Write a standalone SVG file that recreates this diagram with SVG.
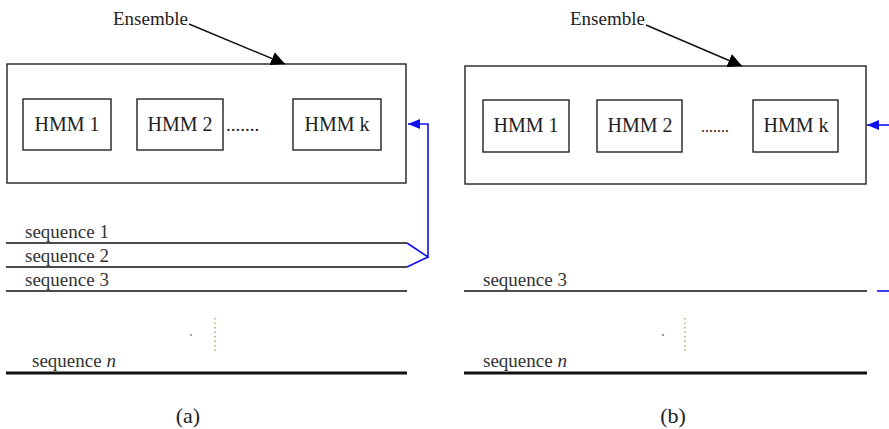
<svg xmlns="http://www.w3.org/2000/svg" width="889" height="429" viewBox="0 0 889 429">
<style>
  .box{fill:#fff;stroke:#222;stroke-width:1.4}
  .t{font-family:"Liberation Serif","Times New Roman",serif;fill:#222}
  .hmm{font-size:20px;text-anchor:middle}
  .seq{font-size:19px;fill:#333}
  .line{stroke:#111;stroke-width:1.4;fill:none}
  .thick{stroke:#111;stroke-width:3;fill:none}
  .blue{stroke:#1010ee;stroke-width:1.6;fill:none}
  .dots{stroke:#c8a060;stroke-width:1.5;stroke-dasharray:1.5 3;fill:none}
</style>
<defs>
  <marker id="ah" viewBox="0 0 14 14" refX="14" refY="7" markerWidth="14" markerHeight="14" markerUnits="userSpaceOnUse" orient="auto">
    <path d="M0,0 L14,7 L0,14 z" fill="#000"/>
  </marker>
  <marker id="bh" viewBox="0 0 12 10" refX="12" refY="5" markerWidth="12" markerHeight="10" markerUnits="userSpaceOnUse" orient="auto">
    <path d="M0,0 L12,5 L0,10 z" fill="#1010ee"/>
  </marker>
</defs>

<!-- Panel (a) -->
<g id="a-ensemble-label"><text class="t" x="113" y="25" font-size="19px" fill="#333">Ensemble</text></g>
<g id="a-ensemble"><rect class="box" x="7" y="64" width="399" height="119"/></g>
<g id="a-hmm1"><rect class="box" x="23" y="99" width="88" height="51"/><text class="t hmm" x="67" y="131">HMM 1</text></g>
<g id="a-hmm2"><rect class="box" x="137" y="99" width="86" height="51"/><text class="t hmm" x="180" y="131">HMM 2</text></g>
<g id="a-dots"><text class="t" x="226" y="131" font-size="19px">.......</text></g>
<g id="a-hmmk"><rect class="box" x="293" y="99" width="88" height="51"/><text class="t hmm" x="337" y="131">HMM k</text></g>

<g id="a-seq1"><line class="line" x1="6" y1="243" x2="407" y2="243"/><text class="t seq" x="25" y="238">sequence 1</text></g>
<g id="a-seq2"><line class="line" x1="6" y1="267" x2="407" y2="267"/><text class="t seq" x="25" y="262">sequence 2</text></g>
<g id="a-seq3"><line class="line" x1="6" y1="291" x2="407" y2="291"/><text class="t seq" x="25" y="286">sequence 3</text></g>
<g id="a-seqn"><line class="thick" x1="6" y1="373" x2="407" y2="373"/><text class="t seq" x="32" y="367">sequence <tspan font-style="italic">n</tspan></text></g>
<g id="a-vdots"><circle cx="191" cy="335" r="1" fill="#88a"/><line class="dots" x1="215" y1="318" x2="215" y2="353"/></g>
<g id="a-caption"><text class="t" x="188" y="423" font-size="22px" text-anchor="middle">(a)</text></g>

<!-- Panel (b) -->
<g id="b-ensemble-label"><text class="t" x="570" y="25" font-size="19px" fill="#333">Ensemble</text></g>
<g id="b-ensemble"><rect class="box" x="465" y="66" width="401" height="118"/></g>
<g id="b-hmm1"><rect class="box" x="483" y="100" width="86" height="52"/><text class="t hmm" x="526" y="132">HMM 1</text></g>
<g id="b-hmm2"><rect class="box" x="597" y="100" width="85" height="52"/><text class="t hmm" x="640" y="132">HMM 2</text></g>
<g id="b-dots"><text class="t" x="701" y="132" font-size="16px" fill="#555">.......</text></g>
<g id="b-hmmk"><rect class="box" x="753" y="100" width="85" height="52"/><text class="t hmm" x="796" y="132">HMM k</text></g>

<g id="b-seq3"><line class="line" x1="464" y1="291" x2="867" y2="291"/><text class="t seq" x="483" y="286">sequence 3</text></g>
<g id="b-seqn"><line class="thick" x1="464" y1="373" x2="867" y2="373"/><text class="t seq" x="483" y="367">sequence <tspan font-style="italic">n</tspan></text></g>
<g id="b-vdots"><circle cx="663" cy="335" r="1" fill="#a66"/><line class="dots" x1="685" y1="318" x2="685" y2="353"/></g>
<g id="b-caption"><text class="t" x="673" y="423" font-size="22px" text-anchor="middle">(b)</text></g>

<!-- Connectors -->
<g id="connectors">
  <line class="line" x1="189" y1="24" x2="285" y2="64" marker-end="url(#ah)"/>
  <line class="line" x1="646" y1="25" x2="742" y2="66" marker-end="url(#ah)"/>
  <polyline class="blue" points="407,243 428,257 428,124 408,124" marker-end="url(#bh)"/>
  <line class="blue" x1="428" y1="257" x2="407" y2="267"/>
  <line class="blue" x1="889" y1="125" x2="867" y2="125" marker-end="url(#bh)"/>
  <line class="blue" x1="877" y1="291" x2="889" y2="291"/>
</g>
</svg>
